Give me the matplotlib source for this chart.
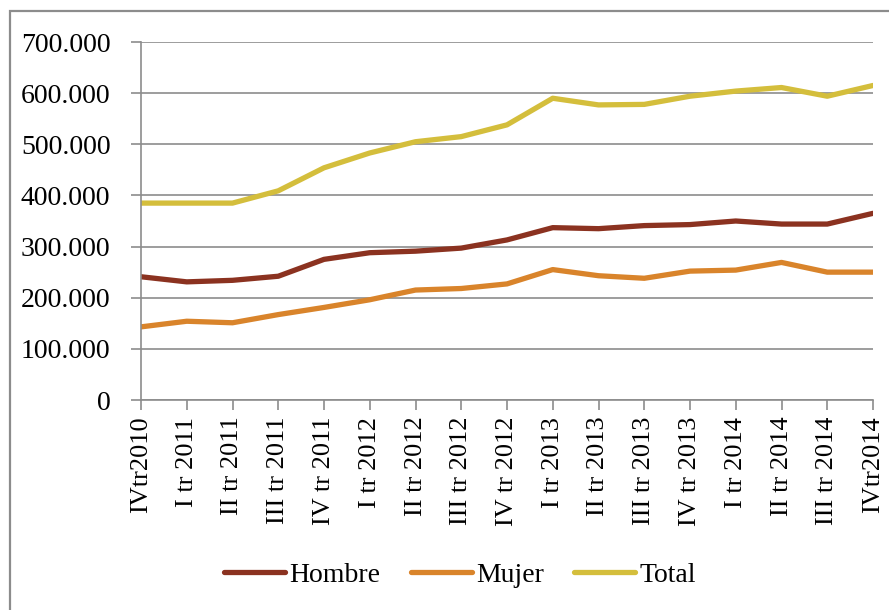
import matplotlib
matplotlib.use("Agg")
import matplotlib.pyplot as plt
import matplotlib.patches as mpatches
from matplotlib.ticker import FuncFormatter

# -- data -- #
trimestres = [
    "IVtr2010", "I tr 2011", "II tr 2011", "III tr 2011", "IV tr 2011",
    "I tr 2012", "II tr 2012", "III tr 2012", "IV tr 2012",
    "I tr 2013", "II tr 2013", "III tr 2013", "IV tr 2013",
    "I tr 2014", "II tr 2014", "III tr 2014", "IVtr2014",
]
hombre = [241000, 231000, 234000, 242000, 275000, 288000, 291000, 297000, 313000,
          337000, 335000, 341000, 343000, 350000, 344000, 344000, 365000]
mujer = [143000, 154000, 151000, 167000, 181000, 196000, 215000, 218000, 227000,
         255000, 243000, 238000, 252000, 254000, 269000, 250000, 250000]
total = [385000, 385000, 385000, 409000, 454000, 483000, 505000, 515000, 538000,
         590000, 577000, 578000, 594000, 604000, 611000, 594000, 615000]

series = [("Hombre", hombre, "#8b3220"),
          ("Mujer", mujer, "#d9842b"),
          ("Total", total, "#d4be3c")]

plt.rcParams['font.family'] = ['Liberation Serif', 'DejaVu Serif']
grey = "#8c8c8c"

fig = plt.figure(figsize=(8.89, 6.10), dpi=100)

# outer chart frame (cut by the image edges on the right and bottom)
frame = mpatches.Rectangle((9.5 / 889, -0.1), 1.2, 1.1 - 11.5 / 610,
                           transform=fig.transFigure, fill=False,
                           edgecolor=grey, linewidth=1.6)
fig.patches.append(frame)

ax = fig.add_axes([141 / 889, 1 - 400 / 610, (873 - 141) / 889, (400 - 42) / 610])

x = list(range(len(trimestres)))
for name, vals, col in series:
    ax.plot(x, vals, color=col, linewidth=3.8, label=name, solid_capstyle="round")

ax.set_xlim(0, len(trimestres) - 1)
ax.set_ylim(0, 700000)
ax.set_yticks(range(0, 700001, 100000))
ax.yaxis.set_major_formatter(FuncFormatter(
    lambda v, p: "0" if v == 0 else "{:,.0f}".format(v).replace(",", ".")))
ax.set_xticks(x)
ax.set_xticklabels(trimestres, rotation=90)

ax.grid(axis="y", color=grey, linewidth=1.2)
ax.set_axisbelow(True)
for side in ["top", "right"]:
    ax.spines[side].set_visible(False)
for side in ["left", "bottom"]:
    ax.spines[side].set_color(grey)
    ax.spines[side].set_linewidth(1.2)

ax.tick_params(axis="both", colors=grey, length=7, width=1.2, labelsize=19,
               labelcolor="black")
ax.tick_params(axis="y", labelsize=20, pad=15)
ax.tick_params(axis="x", pad=5)

ax.legend(loc="center", bbox_to_anchor=(460 / 889, 1 - 575 / 610),
          bbox_transform=fig.transFigure, ncol=3, frameon=False, fontsize=20,
          handlelength=2.2, handletextpad=0.15, columnspacing=1.1)

fig.savefig("out.png", dpi=100)
